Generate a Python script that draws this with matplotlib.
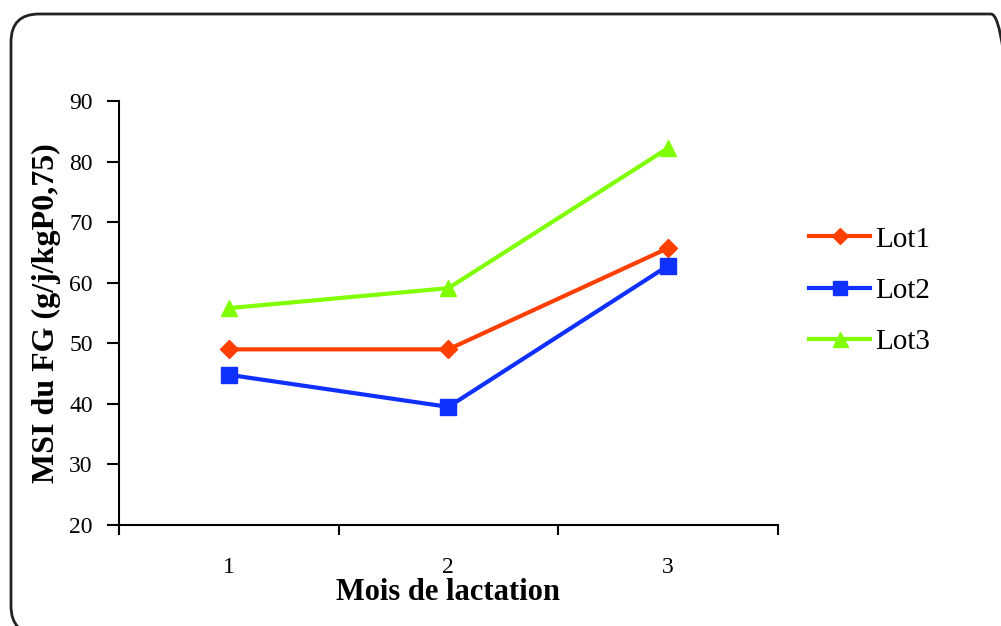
import matplotlib
matplotlib.use("Agg")
import matplotlib.pyplot as plt
from matplotlib.patches import FancyBboxPatch
from matplotlib.ticker import FixedLocator

months = ["1", "2", "3"]
lot1 = [49.0, 49.0, 65.7]
lot2 = [44.8, 39.5, 62.8]
lot3 = [55.8, 59.1, 82.2]
yticks = [20, 30, 40, 50, 60, 70, 80, 90]

plt.rcParams['font.family'] = ['Liberation Serif', 'DejaVu Serif']

fig = plt.figure(figsize=(10.01, 6.26), dpi=100)
border = FancyBboxPatch((0.11, -0.08), 10.08, 6.20, boxstyle="round,pad=0,rounding_size=0.28",
                        transform=fig.dpi_scale_trans, fill=False, edgecolor='#222222', linewidth=2.0)
fig.patches.append(border)

ax = fig.add_axes([0.1189, 0.1613, 0.658, 0.6774])
x = list(range(len(months)))
ax.plot(x, lot1, color='#FF4000', marker='D', markersize=9, linewidth=3, label='Lot1')
ax.plot(x, lot2, color='#1030FF', marker='s', markersize=11, linewidth=3, label='Lot2')
ax.plot(x, lot3, color='#80FF00', marker='^', markersize=12, linewidth=3, label='Lot3')

ax.set_xlim(-0.5, 2.5)
ax.set_ylim(20, 90)
ax.set_yticks(yticks)
ax.set_xticks(x)
ax.set_xticklabels(months)
ax.xaxis.set_minor_locator(FixedLocator([-0.5, 0.5, 1.5, 2.5]))
ax.tick_params(axis='x', which='major', length=0, pad=23, labelsize=17)
ax.tick_params(axis='x', which='minor', length=7, width=1.5, direction='out')
ax.tick_params(axis='y', length=9, width=1.5, direction='out', labelsize=17, pad=10)
for s in ['top', 'right']:
    ax.spines[s].set_visible(False)
for s in ['left', 'bottom']:
    ax.spines[s].set_linewidth(1.5)

ax.set_xlabel("Mois de lactation", fontsize=22, fontweight='bold', labelpad=0)
ax.set_ylabel("MSI du FG (g/j/kgP0,75)", fontsize=23, fontweight='bold', labelpad=6)

leg = ax.legend(loc='center left', bbox_to_anchor=(1.03, 0.553), frameon=False, fontsize=21,
                handlelength=2.1, handletextpad=0.15, labelspacing=0.85, markerscale=0.9,
                borderaxespad=0)

fig.savefig("out.png", dpi=100)
